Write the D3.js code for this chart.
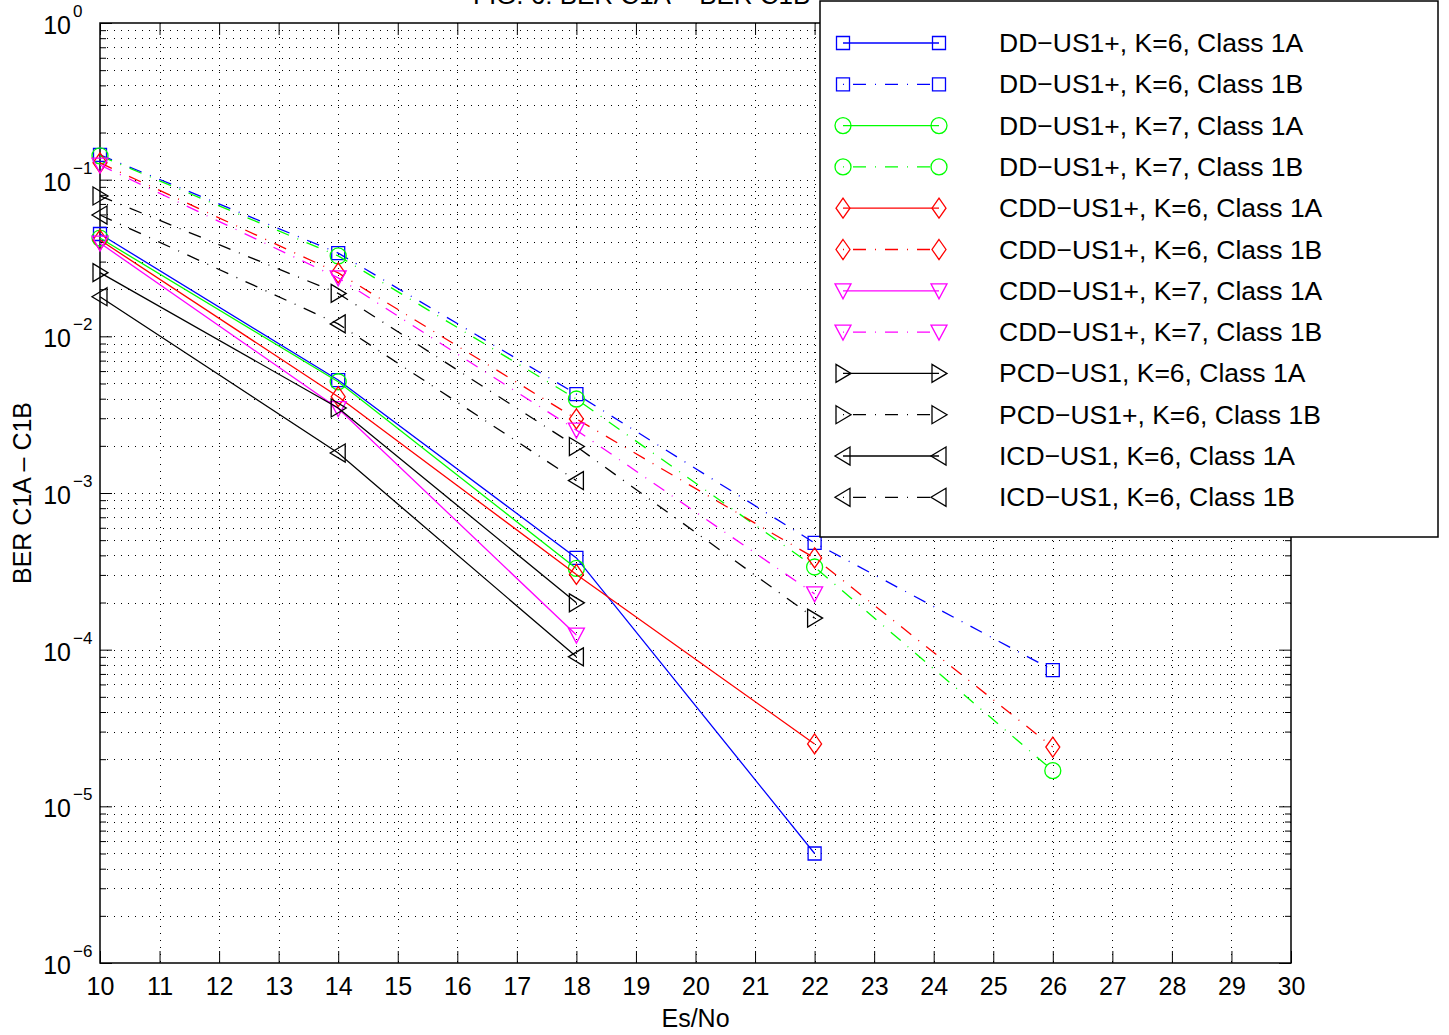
<!DOCTYPE html>
<html>
<head>
<meta charset="utf-8">
<script src="https://cdn.jsdelivr.net/npm/d3@7/dist/d3.min.js"></script>
<style>
body { margin: 0; background: #fff; }
text { font-family: "Liberation Sans", Arial, sans-serif; fill: #000; }
</style>
</head>
<body>
<div id="container"></div>
<script>
// Es/No points (dB)
var esNo = [10, 14, 18, 22, 26];
var xTicks = d3.range(10, 31);
var yExps = [0, -1, -2, -3, -4, -5, -6];

// BER values, one array per curve
var ddK6A  = [4.5e-2, 5.26e-3, 3.85e-4, 5.0e-6];
var ddK6B  = [1.44e-1, 3.4e-2, 4.28e-3, 4.8e-4, 7.4e-5];
var ddK7A  = [4.24e-2, 5.13e-3, 3.3e-4];
var ddK7B  = [1.42e-1, 3.26e-2, 3.98e-3, 3.37e-4, 1.69e-5];
var cddK6A = [4.12e-2, 4.12e-3, 3.02e-4, 2.5e-5];
var cddK6B = [1.28e-1, 2.54e-2, 2.97e-3, 3.85e-4, 2.39e-5];
var cddK7A = [3.94e-2, 3.46e-3, 1.24e-4];
var cddK7B = [1.24e-1, 2.36e-2, 2.52e-3, 2.27e-4];
var pcdK6A = [2.55e-2, 3.49e-3, 1.99e-4];
var pcdK6B = [7.87e-2, 1.88e-2, 1.98e-3, 1.59e-4];
var icdK6A = [1.79e-2, 1.8e-3, 9.0e-5];
var icdK6B = [5.95e-2, 1.2e-2, 1.2e-3];

var labels = [
  "DD\u2212US1+, K=6, Class 1A", "DD\u2212US1+, K=6, Class 1B",
  "DD\u2212US1+, K=7, Class 1A", "DD\u2212US1+, K=7, Class 1B",
  "CDD\u2212US1+, K=6, Class 1A", "CDD\u2212US1+, K=6, Class 1B",
  "CDD\u2212US1+, K=7, Class 1A", "CDD\u2212US1+, K=7, Class 1B",
  "PCD\u2212US1, K=6, Class 1A", "PCD\u2212US1+, K=6, Class 1B",
  "ICD\u2212US1, K=6, Class 1A", "ICD\u2212US1, K=6, Class 1B"
];
var values = [ddK6A, ddK6B, ddK7A, ddK7B, cddK6A, cddK6B, cddK7A, cddK7B, pcdK6A, pcdK6B, icdK6A, icdK6B];
var colors = ["#0000ff","#0000ff","#00ff00","#00ff00","#ff0000","#ff0000","#ff00ff","#ff00ff","#000","#000","#000","#000"];
var markers = ["square","square","circle","circle","diamond","diamond","tdown","tdown","tright","tright","tleft","tleft"];

var series = labels.map(function(l, i) {
  return {label: l, color: colors[i], marker: markers[i], dashed: i % 2 == 1,
    pts: values[i].map(function(v, j) { return [esNo[j], v]; })};
});

var W = 1449, H = 1035;
var pL = 100, pR = 1291, pT = 23, pB = 963;
var dash = "13,9,1,9";

var svg = d3.select("#container").append("svg").attr("width", W).attr("height", H);

var x = d3.scaleLinear().domain([10, 30]).range([pL, pR]);
var y = d3.scaleLog().domain([1e-6, 1]).range([pB, pT]);

// all log ticks (1..9 x 10^k)
var major = yExps.map(function(e) { return Math.pow(10, e); });
var minor = [];
yExps.slice(1).forEach(function(e) {
  for (var k = 2; k <= 9; k++) minor.push(k * Math.pow(10, e));
});

// grid
var grid = svg.append("g").attr("stroke", "#000").attr("stroke-width", 1).attr("stroke-dasharray", "1,6");
grid.selectAll(".vg").data(xTicks.slice(1, -1)).enter().append("line")
  .attr("x1", function(d) { return Math.round(x(d)) + 0.5; }).attr("x2", function(d) { return Math.round(x(d)) + 0.5; })
  .attr("y1", pT).attr("y2", pB);
grid.selectAll(".hg").data(major.slice(1, -1).concat(minor)).enter().append("line")
  .attr("x1", pL).attr("x2", pR)
  .attr("y1", function(d) { return Math.round(y(d)) + 0.5; })
  .attr("y2", function(d) { return Math.round(y(d)) + 0.5; });

// axes ticks (pointing inward)
function clean(g) { g.select(".domain").remove(); g.selectAll("line").attr("stroke", "#000"); }
svg.append("g").attr("transform", "translate(0," + pB + ")")
  .call(d3.axisBottom(x).tickValues(xTicks).tickSizeInner(-12).tickSizeOuter(0).tickPadding(14))
  .call(clean)
  .selectAll("text").attr("font-size", 25).attr("font-family", "Liberation Sans, Arial, sans-serif");
svg.append("g").attr("transform", "translate(0," + pT + ")")
  .call(d3.axisTop(x).tickValues(xTicks).tickSizeInner(-12).tickSizeOuter(0).tickFormat(""))
  .call(clean);
[[d3.axisLeft, pL], [d3.axisRight, pR]].forEach(function(a) {
  svg.append("g").attr("transform", "translate(" + a[1] + ",0)")
    .call(a[0](y).tickValues(major).tickSizeInner(-12).tickSizeOuter(0).tickFormat(""))
    .call(clean);
  svg.append("g").attr("transform", "translate(" + a[1] + ",0)")
    .call(a[0](y).tickValues(minor).tickSizeInner(-6).tickSizeOuter(0).tickFormat(""))
    .call(clean);
});

// y tick labels 10^e
var yl = svg.append("g");
yExps.forEach(function(e) {
  var yy = y(Math.pow(10, e));
  yl.append("text").attr("x", 71).attr("y", yy + 11).attr("text-anchor", "end")
    .attr("font-size", 25).text("10");
  yl.append("text").attr("x", 73).attr("y", yy - 6).attr("font-size", 17)
    .text(e == 0 ? "0" : "\u2212" + (-e));
});

// frame
svg.append("rect").attr("x", pL).attr("y", pT).attr("width", pR - pL).attr("height", pB - pT)
  .attr("fill", "none").attr("stroke", "#000").attr("stroke-width", 1.5);

// markers
function markerPath(m) {
  switch (m) {
    case "square": return "M-6.5,-6.5H6.5V6.5H-6.5Z";
    case "circle": return "M8,0A8,8 0 1,1 -8,0A8,8 0 1,1 8,0Z";
    case "diamond": return "M0,-10L7,0L0,10L-7,0Z";
    case "tdown": return "M-8,-7L8,-7L0,8Z";
    case "tright": return "M-7,-9L8,0L-7,9Z";
    case "tleft": return "M7,-9L-8,0L7,9Z";
  }
}

var line = d3.line().x(function(d) { return x(d[0]); }).y(function(d) { return y(d[1]); });
var plot = svg.append("g");
series.forEach(function(s) {
  plot.append("path").datum(s.pts).attr("d", line)
    .attr("fill", "none").attr("stroke", s.color).attr("stroke-width", 1.3)
    .attr("stroke-dasharray", s.dashed ? dash : null);
  plot.selectAll(null).data(s.pts).enter().append("path")
    .attr("transform", function(d) { return "translate(" + x(d[0]) + "," + y(d[1]) + ")"; })
    .attr("d", markerPath(s.marker))
    .attr("fill", "none").attr("stroke", s.color).attr("stroke-width", 1.3);
});

// labels
svg.append("text").attr("x", 473).attr("y", 4).attr("font-size", 26)
  .text("FIG. 6: BER C1A \u2212 BER C1B");
svg.append("text").attr("x", (pL + pR) / 2).attr("y", 1027).attr("text-anchor", "middle")
  .attr("font-size", 25).text("Es/No");
svg.append("text").attr("transform", "translate(31," + 493 + ") rotate(-90)")
  .attr("text-anchor", "middle").attr("font-size", 25).text("BER C1A \u2013 C1B");

// legend
var lg = svg.append("g");
lg.append("rect").attr("x", 820).attr("y", 1).attr("width", 618).attr("height", 536)
  .attr("fill", "#fff").attr("stroke", "#000").attr("stroke-width", 1.5);
series.forEach(function(s, i) {
  var ly = 43 + i * 41.3;
  lg.append("line").attr("x1", 843).attr("x2", 939).attr("y1", ly).attr("y2", ly)
    .attr("stroke", s.color).attr("stroke-width", 1.3)
    .attr("stroke-dasharray", s.dashed ? dash : null)
    .attr("stroke-dashoffset", s.dashed ? -10 : null);
  [843, 939].forEach(function(mx) {
    lg.append("path").attr("transform", "translate(" + mx + "," + ly + ")")
      .attr("d", markerPath(s.marker)).attr("fill", "none").attr("stroke", s.color).attr("stroke-width", 1.3);
  });
  lg.append("text").attr("x", 999).attr("y", ly + 9).attr("font-size", 26.5).text(s.label);
});
</script>
</body>
</html>
